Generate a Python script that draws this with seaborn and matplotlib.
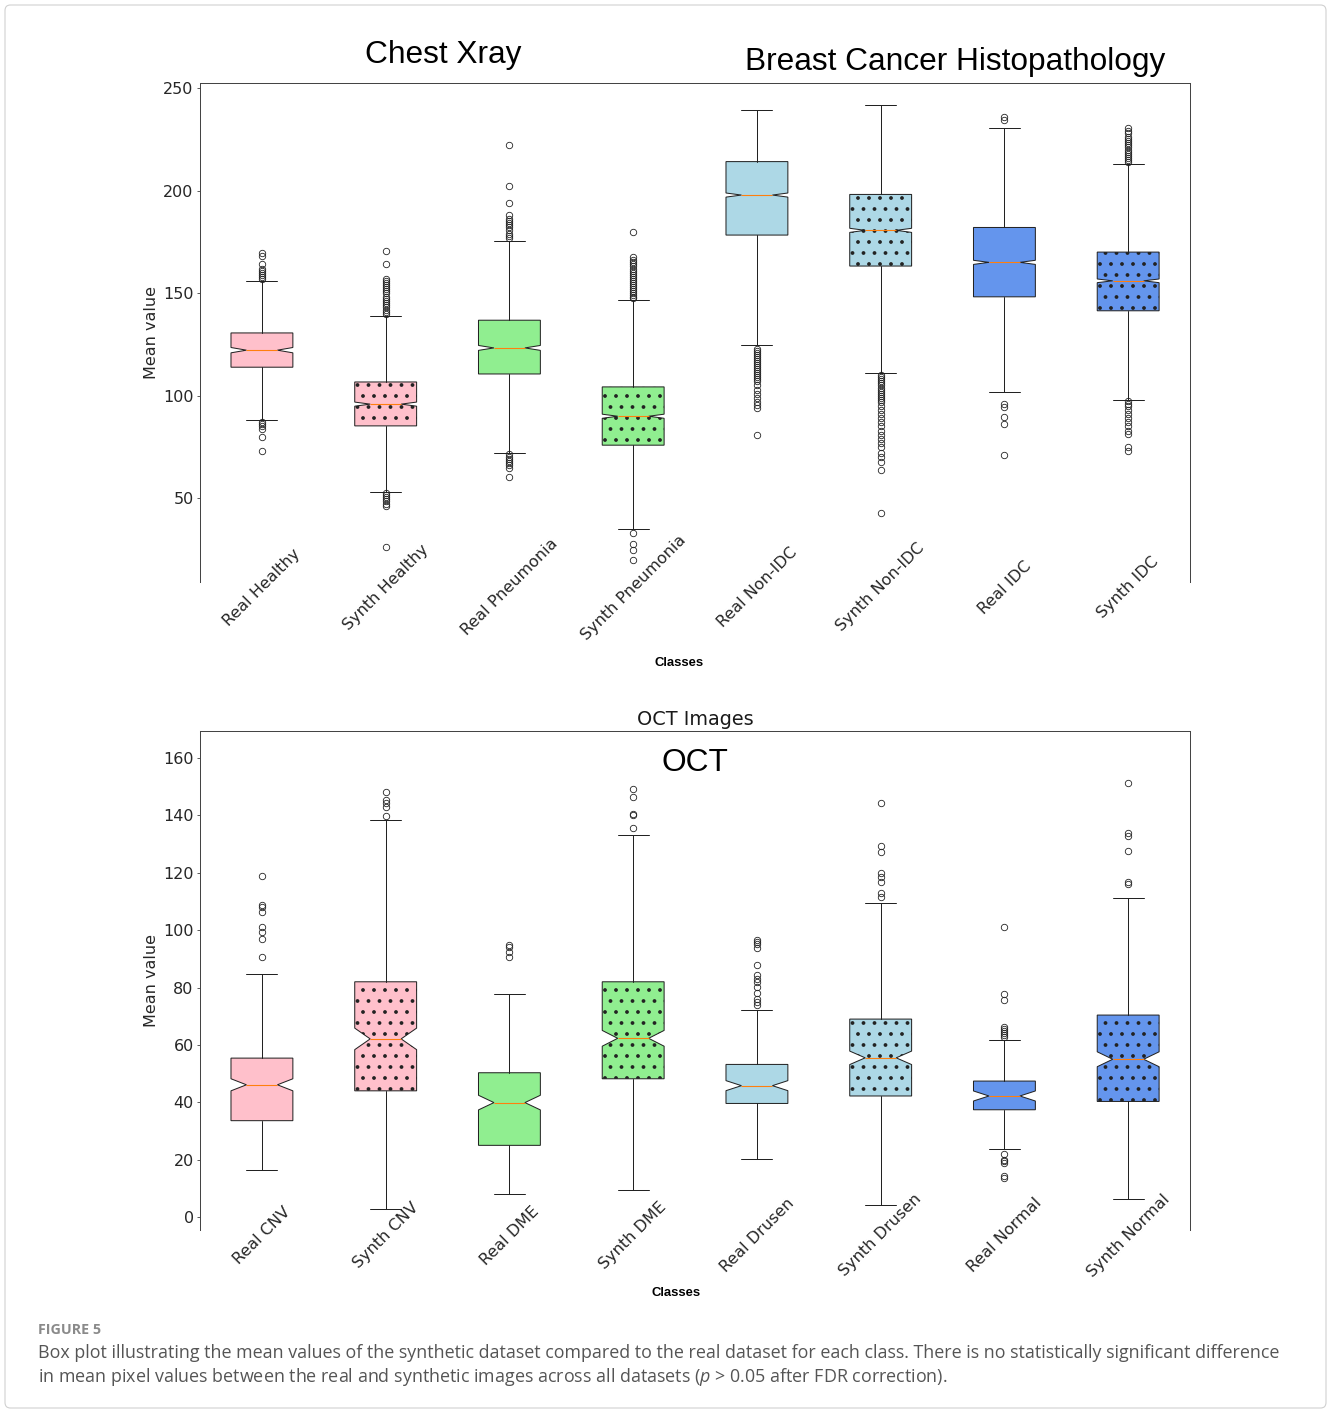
import matplotlib
matplotlib.use("Agg")
import matplotlib.pyplot as plt
import seaborn as sns
from matplotlib.patches import FancyBboxPatch

# box statistics (mean pixel value per image)
labels_top = ["Real Healthy", "Synth Healthy", "Real Pneumonia", "Synth Pneumonia",
              "Real Non-IDC", "Synth Non-IDC", "Real IDC", "Synth IDC"]
top_q1 = [113.9, 85.3, 110.6, 75.9, 178.3, 163.2, 148.2, 141.4]
top_med = [122.2, 95.9, 123.3, 90.0, 197.8, 180.6, 165.0, 156.0]
top_q3 = [130.6, 106.7, 136.8, 104.3, 214.1, 198.1, 182.0, 170.0]
top_lo = [88.4, 53.1, 72.0, 35.2, 124.5, 111.1, 101.9, 97.8]
top_hi = [156.0, 138.9, 175.4, 146.6, 239.3, 241.7, 230.7, 212.9]
top_notch = [1.3, 1.0, 1.2, 1.0, 1.0, 1.0, 1.0, 0.9]
top_fliers = [
    [157, 158, 159, 160, 161, 162, 164, 168, 169.7, 87, 86, 85, 84, 80, 73],
    [140, 141, 142, 143, 144, 145, 146, 147, 148, 150, 151, 152, 153, 154, 155, 156, 157,
     164, 170.5, 52.4, 51.5, 50.5, 49.5, 48.5, 47, 46.1, 26.1],
    [176.7, 178, 179, 181, 182, 183, 184, 185, 186, 188, 194, 202, 222,
     71.4, 70, 69, 68, 67, 66, 64.6, 60.4],
    [147.5, 148, 149, 150, 151, 152, 153, 154, 155, 156, 157, 158, 159, 160, 161, 162, 163,
     164, 165, 166, 167.7, 179.6, 32.9, 27.9, 25, 19.8],
    [123, 122, 121, 120, 119, 118, 117, 116, 115, 114, 113, 112, 111, 110, 109, 108, 107,
     105, 103, 101, 99, 97, 95.5, 94.1, 81],
    [110, 109, 108, 107, 106, 105, 104, 103, 102, 101, 100, 99, 98, 97, 95, 93, 91, 89, 87,
     85, 83, 81, 79, 77, 75, 72, 70, 67.7, 63.8, 43],
    [236, 234.4, 96.2, 94.6, 89.4, 86.4, 71.3],
    [214, 215, 216, 217, 218, 219, 220, 221, 222, 223, 224, 225, 226, 228, 229, 230.3,
     97.5, 96, 95, 93, 91, 89, 87, 85, 83, 81.5, 75, 73],
]

labels_bot = ["Real CNV", "Synth CNV", "Real DME", "Synth DME",
              "Real Drusen", "Synth Drusen", "Real Normal", "Synth Normal"]
bot_q1 = [33.6, 44.0, 25.0, 48.2, 39.6, 42.2, 37.4, 40.3]
bot_med = [46.1, 62.1, 39.9, 62.3, 45.8, 55.5, 42.2, 55.0]
bot_q3 = [55.4, 82.0, 50.3, 82.0, 53.2, 69.0, 47.4, 70.4]
bot_lo = [16.4, 2.9, 8.1, 9.4, 20.1, 4.1, 23.6, 6.2]
bot_hi = [84.8, 138.5, 77.9, 133.2, 72.3, 109.3, 61.6, 111.3]
bot_notch = [2.1, 3.75, 2.55, 2.75, 1.75, 2.35, 1.75, 2.6]
bot_fliers = [
    [90.6, 97, 99.2, 101.2, 106.2, 108.2, 108.8, 119],
    [139.8, 142.8, 144.4, 145.4, 148.1],
    [90.6, 92.3, 94.2, 94.8],
    [135.5, 140.1, 140.4, 146.3, 149.3],
    [74, 75, 76, 78, 80.3, 82, 83, 84.4, 88, 93.7, 95, 96, 96.6],
    [111.7, 113.1, 116.9, 118.6, 120, 127.1, 129.4, 144.2],
    [62.9, 63.5, 64, 65, 65.5, 66.4, 75.7, 77.6, 101, 21.9, 20, 19.5, 19, 14.3, 13.5],
    [116.1, 116.9, 127.6, 132.8, 133.7, 151.2],
]

box_colors = ["pink", "pink", "lightgreen", "lightgreen",
              "lightblue", "lightblue", "cornflowerblue", "cornflowerblue"]
box_hatch = ["", ".", "", ".", "", ".", "", "."]

DPI = 66
sns.set_style("ticks")
plt.rcParams["font.family"] = ["DejaVu Sans"]
plt.rcParams["font.size"] = 17.5
plt.rcParams["text.color"] = "#1a1a1a"
plt.rcParams["hatch.color"] = "black"
plt.rcParams["hatch.linewidth"] = 1.7
plt.rcParams["mathtext.fontset"] = "custom"
plt.rcParams["mathtext.it"] = "Open Sans:italic"
plt.rcParams["mathtext.rm"] = "Open Sans"


def make_stats(q1, med, q3, lo, hi, notch, fliers):
    out = []
    for i in range(len(q1)):
        out.append({"q1": q1[i], "med": med[i], "q3": q3[i],
                    "whislo": lo[i], "whishi": hi[i],
                    "cilo": med[i] - notch[i], "cihi": med[i] + notch[i],
                    "fliers": fliers[i]})
    return out


def draw_panel(ax, stats, labels, ylim):
    pos = list(range(1, len(labels) + 1))
    res = ax.bxp(stats, positions=pos, widths=0.5, patch_artist=True,
                 shownotches=True, manage_ticks=False,
                 boxprops=dict(edgecolor="#222222", linewidth=1.1),
                 whiskerprops=dict(color="#222222", linewidth=1.1),
                 capprops=dict(color="#222222", linewidth=1.1),
                 medianprops=dict(color="#ff7f0e", linewidth=1.2),
                 flierprops=dict(marker="o", markerfacecolor="none",
                                 markeredgecolor="#222222", markersize=7,
                                 markeredgewidth=0.9))
    for patch, c, h in zip(res["boxes"], box_colors, box_hatch):
        patch.set_facecolor(c)
        patch.set_hatch(h)
    ax.set_xlim(0.5, len(labels) + 0.5)
    ax.set_ylim(*ylim)
    ax.set_xticks(pos)
    ax.set_xticklabels(labels, rotation=45, ha="center", va="center",
                       rotation_mode="anchor")
    ax.tick_params(axis="x", length=0, pad=6)
    ax.spines["bottom"].set_visible(False)
    for s in ["left", "top", "right"]:
        ax.spines[s].set_color("#444444")
        ax.spines[s].set_linewidth(1.1)
    ax.set_ylabel("Mean value")
    ax.set_xlabel("Classes", fontfamily="Liberation Sans", fontweight="bold",
                  fontsize=14.2, color="black")


fig = plt.figure(figsize=(1331 / DPI, 1412 / DPI), dpi=DPI)
ax1 = fig.add_axes([0.1503, 0.5878, 0.7438, 0.3534])
ax2 = fig.add_axes([0.1503, 0.1289, 0.7438, 0.3534])

draw_panel(ax1, make_stats(top_q1, top_med, top_q3, top_lo, top_hi, top_notch, top_fliers),
           labels_top, (9.2, 252.4))
ax1.xaxis.set_label_coords(0.4838, -0.150)

draw_panel(ax2, make_stats(bot_q1, bot_med, bot_q3, bot_lo, bot_hi, bot_notch, bot_fliers),
           labels_bot, (-4.5, 169.4))
ax2.xaxis.set_label_coords(0.4808, -0.114)
ax2.set_title("OCT Images", fontsize=21)

# big panel headings
fig.text(0.3328, 0.961, "Chest Xray", fontfamily="Liberation Sans", fontsize=34.5,
         ha="center", va="center", color="black")
fig.text(0.7175, 0.9561, "Breast Cancer Histopathology", fontfamily="Liberation Sans",
         fontsize=34.5, ha="center", va="center", color="black")
fig.text(0.5222, 0.4596, "OCT", fontfamily="Liberation Sans", fontsize=34.5,
         ha="center", va="center", color="black")

# caption
fig.text(38 / 1331, 1 - 1330 / 1412, "FIGURE 5", fontfamily="Open Sans",
         fontweight="bold", fontsize=15.5, color="#8a8a8a", va="center")
fig.text(38 / 1331, 1 - 1353 / 1412,
         "Box plot illustrating the mean values of the synthetic dataset compared to the "
         "real dataset for each class. There is no statistically significant difference",
         fontfamily="Open Sans", fontsize=19.5, color="#555555", va="center")
fig.text(38 / 1331, 1 - 1377 / 1412,
         "in mean pixel values between the real and synthetic images across all datasets "
         "($p$ > 0.05 after FDR correction).",
         fontfamily="Open Sans", fontsize=19.5, color="#555555", va="center")

# light frame around the whole figure
fig.patches.append(FancyBboxPatch((5 / 1331, 4 / 1412), 1321 / 1331, 1403 / 1412,
                                  boxstyle="round,pad=0,rounding_size=0.004",
                                  transform=fig.transFigure, facecolor="none",
                                  edgecolor="#d0d0d0", linewidth=1.2))

fig.savefig("out.png", dpi=DPI)
